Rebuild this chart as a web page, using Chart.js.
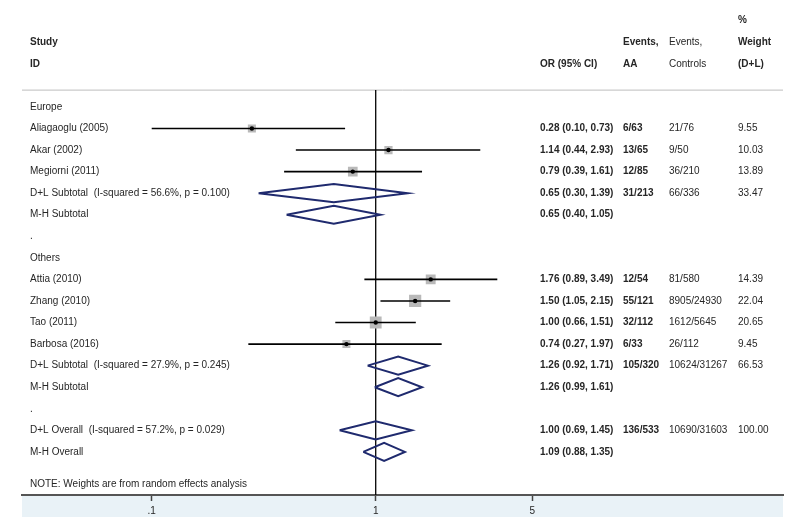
<!DOCTYPE html>
<html>
<head>
<meta charset="utf-8">
<script src="https://cdn.jsdelivr.net/npm/chart.js@4"></script>
<style>
  body { margin: 0; background: #fff; }
  canvas { display: block; }
</style>
</head>
<body>
<canvas id="forest" width="800" height="522"></canvas>
<script>
// individual studies
const studies = ['Aliagaoglu (2005)', 'Akar (2002)', 'Megiorni (2011)', 'Attia (2010)', 'Zhang (2010)', 'Tao (2011)', 'Barbosa (2016)'];
const studyRows = [1, 2, 3, 8, 9, 10, 11];
const studyOR = [0.28, 1.14, 0.79, 1.76, 1.50, 1.00, 0.74];
const studyLo = [0.10, 0.44, 0.39, 0.89, 1.05, 0.66, 0.27];
const studyHi = [0.73, 2.93, 1.61, 3.49, 2.15, 1.51, 1.97];
const studyAA = ['6/63', '13/65', '12/85', '12/54', '55/121', '32/112', '6/33'];
const studyCtrl = ['21/76', '9/50', '36/210', '81/580', '8905/24930', '1612/5645', '26/112'];
const studyWeight = [9.55, 10.03, 13.89, 14.39, 22.04, 20.65, 9.45];

// pooled estimates (diamonds)
const pooled = ['D+L Subtotal  (I-squared = 56.6%, p = 0.100)', 'M-H Subtotal', 'D+L Subtotal  (I-squared = 27.9%, p = 0.245)', 'M-H Subtotal', 'D+L Overall  (I-squared = 57.2%, p = 0.029)', 'M-H Overall'];
const pooledRows = [4, 5, 12, 13, 15, 16];
const pooledOR = [0.65, 0.65, 1.26, 1.26, 1.00, 1.09];
const pooledLo = [0.30, 0.40, 0.92, 0.99, 0.69, 0.88];
const pooledHi = [1.39, 1.05, 1.71, 1.61, 1.45, 1.35];
const pooledAA = ['31/213', '', '105/320', '', '136/533', ''];
const pooledCtrl = ['66/336', '', '10624/31267', '', '10690/31603', ''];
const pooledWeight = ['33.47', '', '66.53', '', '100.00', ''];

// other label rows
const groupLabels = ['Europe', '.', 'Others', '.'];
const groupRows = [0, 6, 7, 14];
const note = 'NOTE: Weights are from random effects analysis';
const noteRow = 17.5;

const xTicks = [0.1, 1, 5];
const xTickLabels = ['.1', '1', '5'];

const fmt = v => v.toFixed(2);
const ciText = (o, l, h) => `${fmt(o)} (${fmt(l)}, ${fmt(h)})`;

const navy = '#1f2a6e';
const txt = '#262626';
const font = (bold) => `${bold ? 'bold ' : ''}10px "Liberation Sans", Arial, sans-serif`;

// text columns x (px)
const col = { label: 30, or: 540, aa: 623, ctrl: 669, weight: 738 };

const ciLines = studies.map((s, i) => ({
  type: 'line',
  data: [{ x: studyLo[i], y: studyRows[i] }, { x: studyHi[i], y: studyRows[i] }],
  borderColor: '#000',
  borderWidth: 1.6,
  pointRadius: 0,
  order: 1
}));

const diamonds = pooled.map((s, i) => ({
  type: 'line',
  data: [
    { x: pooledLo[i], y: pooledRows[i] },
    { x: pooledOR[i], y: pooledRows[i] - 0.42 },
    { x: pooledHi[i], y: pooledRows[i] },
    { x: pooledOR[i], y: pooledRows[i] + 0.42 },
    { x: pooledLo[i], y: pooledRows[i] }
  ],
  borderColor: navy,
  borderWidth: 2,
  pointRadius: 0,
  tension: 0,
  order: 1
}));

const studyPoints = studies.map((s, i) => ({ x: studyOR[i], y: studyRows[i] }));

const datasets = [
  {
    type: 'scatter',
    data: studyPoints,
    pointStyle: 'circle',
    pointRadius: 2.2,
    backgroundColor: '#000',
    borderWidth: 0,
    order: 0
  },
  ...ciLines,
  {
    type: 'scatter',
    data: studyPoints,
    pointStyle: 'rect',
    // box side grows with sqrt(weight)
    pointRadius: ctx => 2.6 * Math.sqrt(studyWeight[ctx.dataIndex]) / Math.SQRT2,
    backgroundColor: '#b9b9b9',
    borderWidth: 0,
    order: 2
  },
  ...diamonds,
  {
    type: 'line',
    data: [{ x: 1, y: -0.78 }, { x: 1, y: 18 }],
    borderColor: '#000',
    borderWidth: 1.3,
    pointRadius: 0,
    order: 3
  }
];

const drawText = (ctx, str, x, y, bold) => {
  ctx.font = font(bold);
  ctx.fillText(str, x, y);
};

const forestText = {
  id: 'forestText',
  beforeDraw(chart) {
    const { ctx, chartArea } = chart;
    ctx.save();
    ctx.fillStyle = '#e9f2f7';
    ctx.fillRect(chartArea.left, chartArea.bottom, chartArea.right - chartArea.left, 22);
    // header rule
    const yLine = chart.scales.y.getPixelForValue(-0.78);
    ctx.strokeStyle = '#bdbdbd';
    ctx.lineWidth = 1;
    ctx.beginPath();
    ctx.moveTo(chartArea.left, yLine);
    ctx.lineTo(chartArea.right, yLine);
    ctx.stroke();
    ctx.restore();
  },
  afterDraw(chart) {
    const { ctx } = chart;
    const y = chart.scales.y;
    ctx.save();
    ctx.fillStyle = txt;
    ctx.textBaseline = 'middle';
    ctx.textAlign = 'left';

    // header
    drawText(ctx, '%', col.weight, y.getPixelForValue(-4), true);
    drawText(ctx, 'Study', col.label, y.getPixelForValue(-3), true);
    drawText(ctx, 'Events,', col.aa, y.getPixelForValue(-3), true);
    drawText(ctx, 'Events,', col.ctrl, y.getPixelForValue(-3), false);
    drawText(ctx, 'Weight', col.weight, y.getPixelForValue(-3), true);
    drawText(ctx, 'ID', col.label, y.getPixelForValue(-2), true);
    drawText(ctx, 'OR (95% CI)', col.or, y.getPixelForValue(-2), true);
    drawText(ctx, 'AA', col.aa, y.getPixelForValue(-2), true);
    drawText(ctx, 'Controls', col.ctrl, y.getPixelForValue(-2), false);
    drawText(ctx, '(D+L)', col.weight, y.getPixelForValue(-2), true);

    groupLabels.forEach((g, i) => drawText(ctx, g, col.label, y.getPixelForValue(groupRows[i]), false));

    studies.forEach((s, i) => {
      const py = y.getPixelForValue(studyRows[i]);
      drawText(ctx, s, col.label, py, false);
      drawText(ctx, ciText(studyOR[i], studyLo[i], studyHi[i]), col.or, py, true);
      drawText(ctx, studyAA[i], col.aa, py, true);
      drawText(ctx, studyCtrl[i], col.ctrl, py, false);
      drawText(ctx, fmt(studyWeight[i]), col.weight, py, false);
    });

    pooled.forEach((s, i) => {
      const py = y.getPixelForValue(pooledRows[i]);
      drawText(ctx, s, col.label, py, false);
      drawText(ctx, ciText(pooledOR[i], pooledLo[i], pooledHi[i]), col.or, py, true);
      drawText(ctx, pooledAA[i], col.aa, py, true);
      drawText(ctx, pooledCtrl[i], col.ctrl, py, false);
      drawText(ctx, pooledWeight[i], col.weight, py, false);
    });

    drawText(ctx, note, col.label, y.getPixelForValue(noteRow), false);
    ctx.restore();
  }
};

new Chart(document.getElementById('forest'), {
  type: 'scatter',
  data: { datasets },
  options: {
    responsive: false,
    animation: false,
    devicePixelRatio: 1,
    layout: { padding: { left: 22, right: 17, top: 0, bottom: 1 } },
    plugins: { legend: { display: false }, tooltip: { enabled: false } },
    scales: {
      x: {
        type: 'logarithmic',
        min: 0.02636,
        max: 65.8,
        afterBuildTicks: axis => { axis.ticks = xTicks.map(v => ({ value: v })); },
        ticks: {
          autoSkip: false,
          maxRotation: 0,
          padding: 4,
          color: txt,
          font: { size: 10, family: '"Liberation Sans", Arial, sans-serif' },
          callback: (v) => xTickLabels[xTicks.indexOf(v)]
        },
        grid: { drawOnChartArea: false, drawTicks: true, tickLength: 6, color: '#444', tickWidth: 1.5 },
        border: { display: true, color: '#555', width: 2 }
      },
      y: {
        type: 'linear',
        display: false,
        reverse: true,
        min: -4.56,
        max: 18.0
      }
    }
  },
  plugins: [forestText]
});
</script>
</body>
</html>
